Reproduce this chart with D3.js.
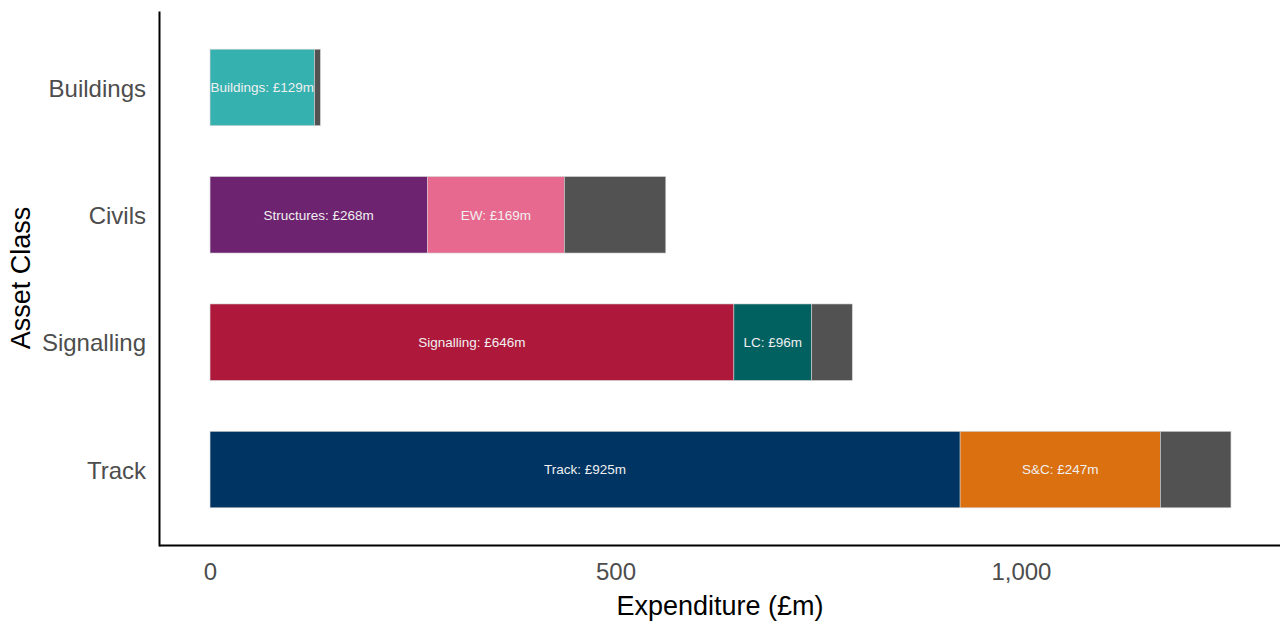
<!DOCTYPE html>
<html>
<head>
<meta charset="utf-8">
<script src="https://cdn.jsdelivr.net/npm/d3@7"></script>
<style>
  body { margin: 0; background: #fff; }
  text { font-family: "Liberation Sans", Arial, sans-serif; }
</style>
</head>
<body>
<div id="chart"></div>
<script>
const assets = ["Buildings", "Civils", "Signalling", "Track"];
const segAsset = ["Track", "Track", "Track", "Signalling", "Signalling", "Signalling", "Civils", "Civils", "Civils", "Buildings", "Buildings"];
const segName  = ["Track", "S&C", "Other", "Signalling", "LC", "Other", "Structures", "EW", "Other", "Buildings", "Other"];
const segValue = [925, 247, 87, 646, 96, 50, 268, 169, 125, 129, 7];
const xTicks = [0, 500, 1000];

const colours = {
    "Track": "#003462", "S&C": "#db7011", "Signalling": "#ae183b", "LC": "#016161",
    "Structures": "#6e2370", "EW": "#e8698f", "Buildings": "#35b1b0", "Other": "#525252"
};

const WIDTH = 1280, HEIGHT = 623;
const PLOT_L = 159, PLOT_R = 1282, PLOT_T = 11, PLOT_B = 546;

// stack each segment on the ones before it in the same asset class
const running = {};
const segs = segValue.map((v, i) => {
    const a = segAsset[i];
    const x0 = running[a] || 0;
    running[a] = x0 + v;
    return { asset: a, name: segName[i], value: v, x0: x0, x1: x0 + v };
});

const maxTotal = d3.max(Object.values(running));
const pad = maxTotal * 0.05;

const svg = d3.select("#chart")
              .append("svg")
                .attr("width", WIDTH)
                .attr("height", HEIGHT);

const x = d3.scaleLinear().domain([-pad, maxTotal + pad]).range([PLOT_L, PLOT_R]);
const y = d3.scaleBand().domain(assets).range([PLOT_T, PLOT_B]).paddingInner(0.4).paddingOuter(0.3);

svg.selectAll("rect.seg")
    .data(segs)
    .join("rect")
      .attr("class", "seg")
      .attr("x", d => x(d.x0))
      .attr("y", d => y(d.asset))
      .attr("width", d => x(d.x1) - x(d.x0))
      .attr("height", y.bandwidth())
      .attr("fill", d => colours[d.name])
      .attr("stroke", "#d0d0d0")
      .attr("stroke-width", 0.6);

svg.selectAll("text.seg")
    .data(segs.filter(d => d.name !== "Other"))
    .join("text")
      .attr("class", "seg")
      .attr("x", d => (x(d.x0) + x(d.x1)) / 2)
      .attr("y", d => y(d.asset) + y.bandwidth() / 2)
      .attr("dy", "0.35em")
      .attr("text-anchor", "middle")
      .attr("font-size", 13.5)
      .attr("fill", "#f0f0f0")
      .text(d => `${d.name}: £${d.value}m`);

// axes
const xAxis = svg.append("g")
    .attr("transform", `translate(0, ${PLOT_B - 1})`)
    .call(d3.axisBottom(x).tickValues(xTicks).tickSize(0).tickPadding(18).tickFormat(d3.format(",")));
xAxis.select(".domain").attr("stroke", "#000").attr("stroke-width", 2);
xAxis.selectAll("text").attr("font-size", 24).attr("fill", "#4d4d4d").attr("font-family", "Liberation Sans, Arial, sans-serif");

const yAxis = svg.append("g")
    .attr("transform", `translate(${PLOT_L}, 0)`)
    .call(d3.axisLeft(y).tickSize(0).tickPadding(13));
yAxis.select(".domain").attr("stroke", "#000").attr("stroke-width", 2);
yAxis.selectAll("text").attr("font-size", 24).attr("dy", "0.38em").attr("fill", "#4d4d4d").attr("font-family", "Liberation Sans, Arial, sans-serif");

svg.append("text")
    .attr("x", 720)
    .attr("y", 615)
    .attr("text-anchor", "middle")
    .attr("font-size", 27)
    .attr("fill", "#000")
    .text("Expenditure (£m)");

svg.append("text")
    .attr("transform", `translate(30, 278) rotate(-90)`)
    .attr("text-anchor", "middle")
    .attr("font-size", 27)
    .attr("fill", "#000")
    .text("Asset Class");
</script>
</body>
</html>
